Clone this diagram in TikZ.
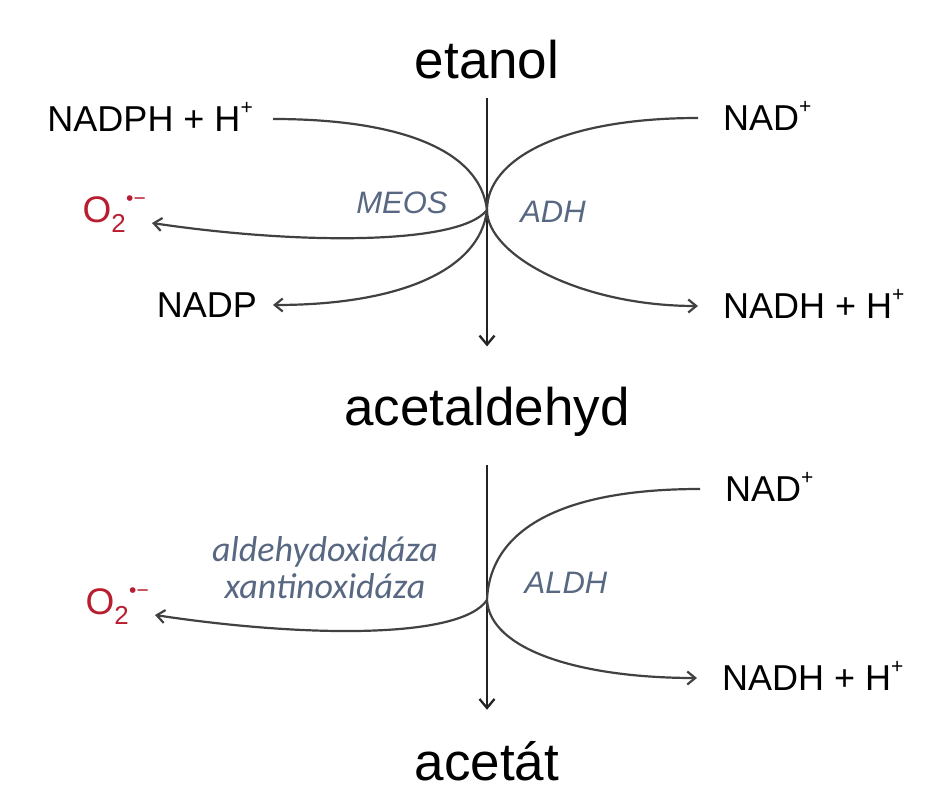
\documentclass[tikz,border=0pt]{standalone}
\usepackage{fontspec}
\setmainfont{Liberation Sans}
\newfontfamily\calib{Carlito}
\usetikzlibrary{arrows.meta}
\definecolor{enz}{RGB}{88,104,130}
\definecolor{oxred}{RGB}{185,30,48}
\definecolor{curve}{RGB}{65,65,65}
\definecolor{vline}{RGB}{35,35,35}
\newcommand{\smsup}[1]{\raisebox{0.9ex}{\fontsize{21}{21}\selectfont #1}}
\tikzset{
  big/.style={font=\fontsize{53}{60}\selectfont, inner sep=0pt, anchor=base},
  lab/.style={font=\fontsize{36}{40}\selectfont, inner ysep=0pt, text height=25pt, text depth=0pt},
  rlab/.style={lab, anchor=west, inner xsep=25pt},
  llab/.style={lab, anchor=east, inner xsep=20pt},
  oxlab/.style={font=\fontsize{37}{40}\selectfont, text=oxred, inner ysep=0pt, text height=25pt, text depth=0pt, inner xsep=6pt, anchor=south east},
  enzlab/.style={font=\fontsize{31}{36}\selectfont\itshape, text=enz, inner sep=0pt},
  calenz/.style={font=\calib\fontsize{36}{37}\selectfont\itshape, text=enz, inner sep=0pt, align=center},
  mainarr/.style={draw=vline, line width=2.3pt, -{Straight Barb[length=9pt,width=15pt,line width=2.3pt]}},
  cline/.style={draw=curve, line width=2.2pt},
  carr/.style={cline, -{Straight Barb[length=8pt,width=13pt,line width=2.2pt]}}
}
\begin{document}
\begin{tikzpicture}[x=1pt,y=-1pt]
\useasboundingbox (0,0) rectangle (946,800);
% main compounds
\node[big] (etanol) at (487,78) {etanol};
\node[big] (acetaldehyd) at (487,425) {acetaldehyd};
\node[big] (acetat) at (487,780) {acetát};
% crossing points
\coordinate (c1) at (487,210);
\coordinate (c2) at (487,600);
% main arrows
\draw[mainarr, shorten <=19pt, shorten >=40pt] (etanol.south) -- (etanol.south |- acetaldehyd.north);
\draw[mainarr, shorten <=29pt, shorten >=31pt] (acetaldehyd.south) -- (acetaldehyd.south |- acetat.north);
% upper labels
\node[llab] (nadph) at (273,119) {NADPH + H\smsup{+}};
\node[llab, inner xsep=16pt] (nadp) at (273,305) {NADP};
\node[oxlab] (o2a) at (152,223) {O\textsubscript{2}\smsup{•−}};
\node[rlab] (nada) at (698,118) {NAD\smsup{+}};
\node[rlab] (nadha) at (698,306) {NADH + H\smsup{+}};
\node[enzlab] (meos) at (402,203) {MEOS};
\node[enzlab] (adh) at (553,212) {ADH};
% lower labels
\node[rlab] (nadb) at (700,489) {NAD\smsup{+}};
\node[rlab] (nadhb) at (697,678) {NADH + H\smsup{+}};
\node[oxlab] (o2b) at (155,615) {O\textsubscript{2}\smsup{•−}};
\node[calenz] (aldo) at (325,568) {aldehydoxidáza\\xantinoxidáza};
\node[enzlab] (aldh) at (566,583) {ALDH};
% upper curves
\draw[cline] (nadph.east) .. controls (400,119) and (480,150) .. (c1);
\draw[carr] (c1) .. controls (460,245) and (300,245) .. (o2a.south east);
\draw[carr] (c1) .. controls (480,270) and (400,305) .. (nadp.east);
\draw[cline] (nada.west) .. controls (560,118) and (487,160) .. (c1);
\draw[carr] (c1) .. controls (487,255) and (580,306) .. (nadha.west);
% lower curves
\draw[cline] (nadb.west) .. controls (560,489) and (490,530) .. (c2);
\draw[carr] (c2) .. controls (490,650) and (580,678) .. (nadhb.west);
\draw[carr] (c2) .. controls (460,640) and (300,637) .. (o2b.south east);
\end{tikzpicture}
\end{document}
